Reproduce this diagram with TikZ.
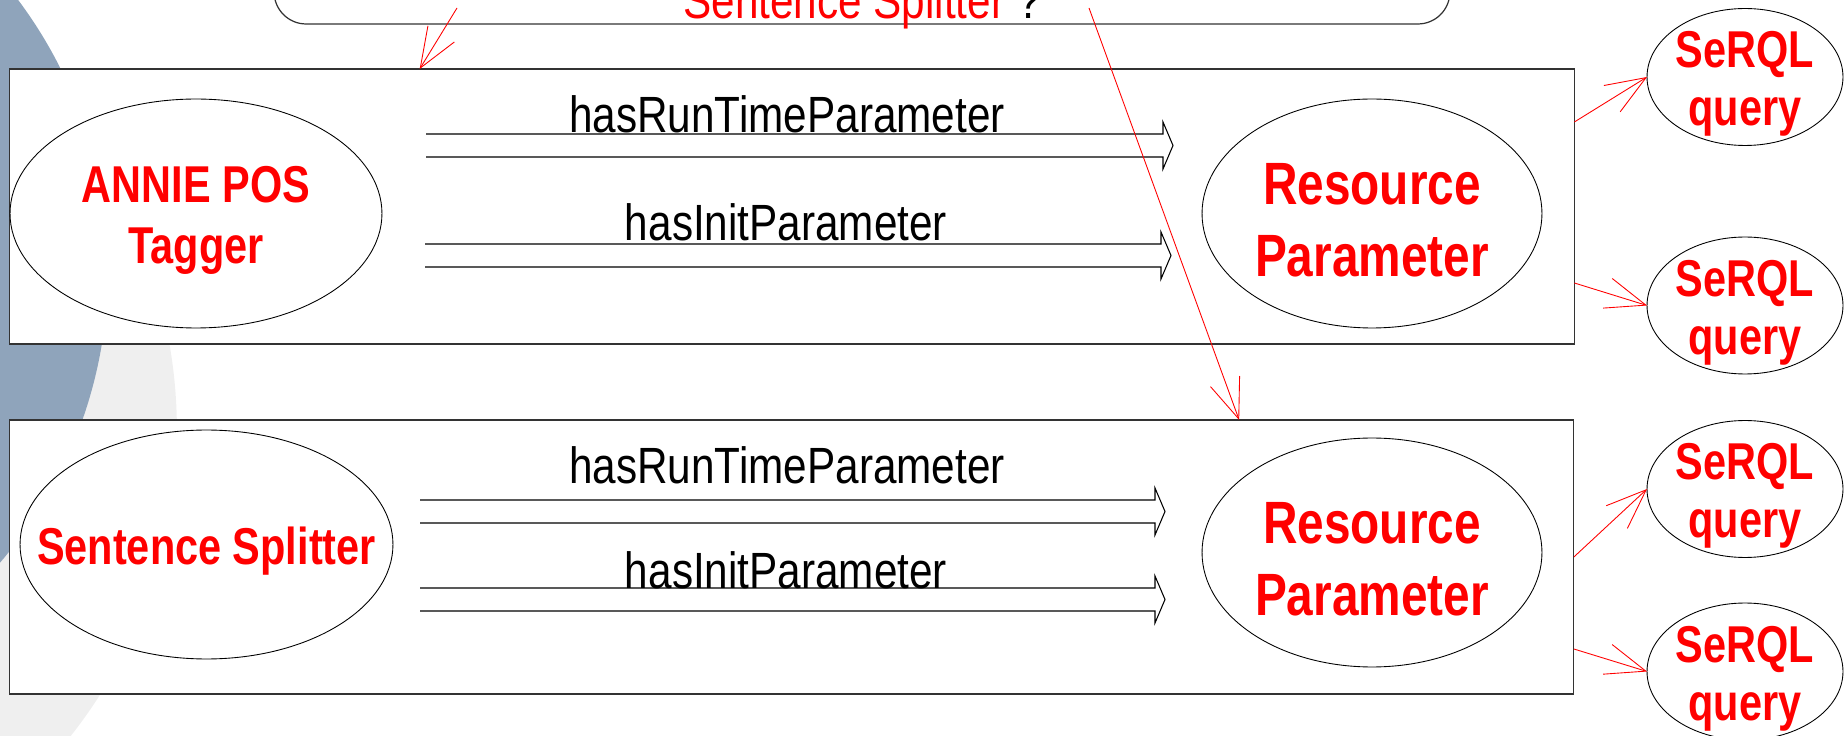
\documentclass[tikz,border=0pt]{standalone}
\usepackage{fontspec}
\newfontfamily\lblfont{Liberation Sans}[FakeStretch=0.83]
\newfontfamily\redfont{Liberation Sans Bold}[FakeStretch=0.8]
\usepackage{xcolor}
\usetikzlibrary{shapes,arrows.meta,positioning,calc}

\definecolor{slate}{RGB}{143,164,187}
\definecolor{fog}{RGB}{239,239,239}

\tikzset{
  panel/.style={draw=black!80, line width=0.7pt, fill=white, minimum width=31.3cm, minimum height=5.5cm, inner sep=0pt, outer sep=0pt},
  oval/.style={draw, line width=0.5pt, fill=white, ellipse, inner sep=0pt, outer sep=0pt},
  redbig/.style={red, align=center, yshift=-0.14cm, font=\redfont\fontsize{29.5}{35}\selectfont},
  redhuge/.style={red, align=center, yshift=-0.14cm, font=\redfont\fontsize{34}{41}\selectfont},
  lbl/.style={anchor=base, inner sep=0pt, font=\lblfont\fontsize{29}{34}\selectfont},
  hollow/.style={draw=black, line width=0.6pt},
  redarr/.style={draw=red, line width=0.5pt, -{Straight Barb[length=0.8cm,width=0.62cm]}}
}

\begin{document}
\begin{tikzpicture}[x=0.02cm, y=-0.02cm]
    \path[use as bounding box] (0,0) rectangle (1847,736);
    \clip (0,0) rectangle (1847,736);

    % Background
    \fill[fog] (-317,430) circle (9.88cm);
    \fill[slate] (-343,270) circle (9.02cm);

    % Question box (cut at the top)
    \node[draw=black!80, line width=0.7pt, fill=white, rounded corners=0.64cm,
          minimum width=23.52cm, minimum height=4cm] (ask) at (862,-76) {};
    \node[lbl] (asktxt) at (862,19) {\textcolor{red}{Sentence Splitter} ?};
    \coordinate (s1) at (457,8);
    \coordinate (s2) at (1089,8);

    % Panels
    \node[panel] (b1) at (792,206.5) {};
    \node[panel, minimum height=5.48cm] (b2) at (791.5,557) {};

    % Processing resources
    \node[oval, minimum width=7.44cm, minimum height=4.58cm,
          label={[redbig]center:ANNIE POS\\Tagger}] (ann) at (196,213.5) {};
    \node[oval, minimum width=7.46cm, minimum height=4.58cm,
          label={[redbig]center:Sentence Splitter}] (spl) at (206.5,544.5) {};

    % Parameters
    \node[oval, minimum width=6.8cm, minimum height=4.58cm,
          label={[redhuge]center:Resource\\Parameter}] (rp1) at (1372,213.5) {};
    \node[oval, minimum width=6.8cm, minimum height=4.58cm,
          label={[redhuge]center:Resource\\Parameter}] (rp2) at (1372,552.5) {};

    % Queries
    \foreach \n/\y in {1/77, 2/305.5, 3/489, 4/671.5}
        \node[oval, minimum width=3.92cm, minimum height=2.74cm,
              label={[redbig, font=\redfont\fontsize{29.5}{33}\selectfont]center:SeRQL\\query}] (q\n) at (1745,\y) {};

    % Hollow arrows
    \foreach \xa/\xb/\y in {426/1163/145.5, 425/1161/255.5, 420/1155/511.5, 420/1155/599.5}
        \draw[hollow] (\xa,\y-11.5) -- (\xb,\y-11.5) -- (\xb,\y-23.5) -- (\xb+10,\y)
            -- (\xb,\y+23.5) -- (\xb,\y+11.5) -- (\xa,\y+11.5);
    \node[lbl] (rt1) at (787,133) {hasRunTimeParameter};
    \node[lbl] (in1) at (786,241) {hasInitParameter};
    \node[lbl] (rt2) at (787,484) {hasRunTimeParameter};
    \node[lbl] (in2) at (786,588) {hasInitParameter};

    % Red links
    \draw[redarr] (s1) -- ($(b1.north west)+(410,0)$);
    \draw[redarr] (s2) -- ($(b2.north west)+(1230,0)$);
    \draw[redarr] ([yshift=1.69cm]b1.east) -- (q1.west);
    \draw[redarr] ([yshift=-1.53cm]b1.east) -- (q2.west);
    \draw[redarr] (b2.east) -- (q3.west);
    \draw[redarr] ([yshift=-1.84cm]b2.east) -- (q4.west);
\end{tikzpicture}
\end{document}
